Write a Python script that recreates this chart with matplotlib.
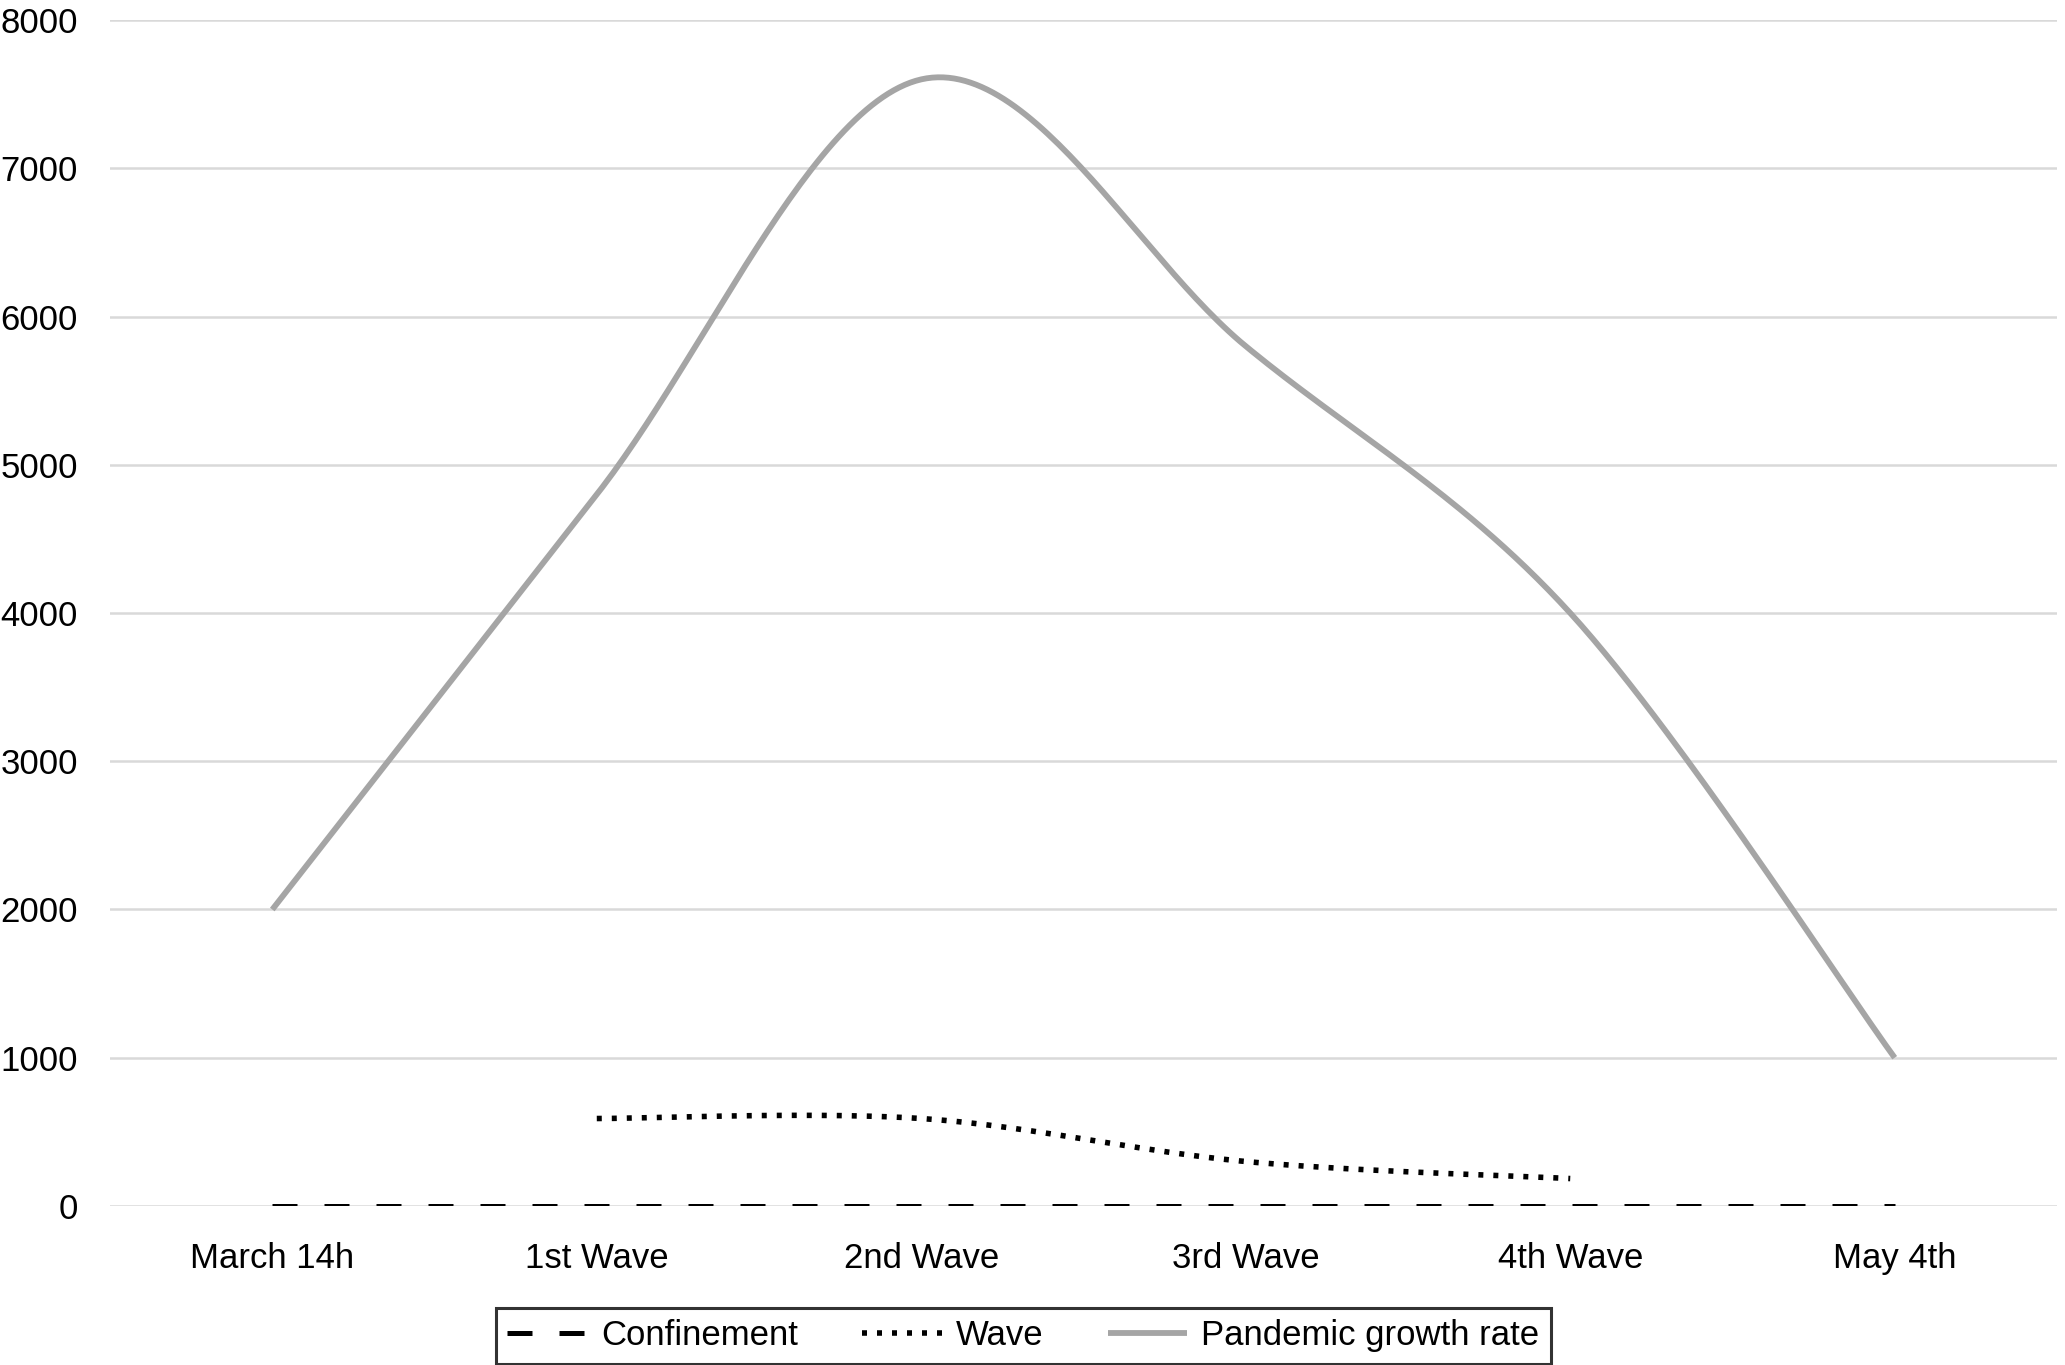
import numpy as np
import matplotlib
matplotlib.use("Agg")
import matplotlib.pyplot as plt

categories = ["March 14h", "1st Wave", "2nd Wave", "3rd Wave", "4th Wave", "May 4th"]
confinement = [0, 0, 0, 0, 0, 0]
wave = [None, 590, 590, 300, 185, None]
pandemic = [2000, 4800, 7600, 5800, 4000, 1000]
yticks = [0, 1000, 2000, 3000, 4000, 5000, 6000, 7000, 8000]

plt.rcParams['font.family'] = ['Liberation Sans', 'DejaVu Sans']


def smooth(xs, ys, n=60):
    """Excel-style smoothed line (Catmull-Rom cubic Bezier)."""
    xs = np.asarray(xs, float)
    ys = np.asarray(ys, float)
    px = np.concatenate([[xs[0]], xs, [xs[-1]]])
    py = np.concatenate([[ys[0]], ys, [ys[-1]]])
    outx, outy = [], []
    t = np.linspace(0, 1, n)
    for i in range(1, len(px) - 2):
        p0 = np.array([px[i], py[i]])
        p3 = np.array([px[i + 1], py[i + 1]])
        c1 = p0 + (np.array([px[i + 1], py[i + 1]]) - np.array([px[i - 1], py[i - 1]])) / 6
        c2 = p3 - (np.array([px[i + 2], py[i + 2]]) - np.array([px[i], py[i]])) / 6
        b = ((1 - t) ** 3)[:, None] * p0 + (3 * (1 - t) ** 2 * t)[:, None] * c1 \
            + (3 * (1 - t) * t ** 2)[:, None] * c2 + (t ** 3)[:, None] * p3
        outx.extend(b[:, 0]); outy.extend(b[:, 1])
    return np.array(outx), np.array(outy)


fig = plt.figure(figsize=(20.65, 13.65), dpi=100)
ax = fig.add_axes([0.0533, 0.1165, 0.9428, 0.8688])

x = np.arange(len(categories))

for yv in yticks:
    ax.axhline(yv, color='#d9d9d9', lw=1.8, zorder=0)

cx, cy = smooth(x, confinement)
ax.plot(cx, cy, color='black', lw=3.6, dashes=(5.0, 5.4), dash_capstyle='butt',
        label='Confinement', zorder=3)

wx = [i for i, v in enumerate(wave) if v is not None]
wy = [v for v in wave if v is not None]
sx, sy = smooth(wx, wy)
ax.plot(sx, sy, color='black', lw=4.0, dashes=(0.9, 1.8), dash_capstyle='butt',
        label='Wave', zorder=3)

px_, py_ = smooth(x, pandemic)
ax.plot(px_, py_, color='#a5a5a5', lw=4.2, solid_capstyle='butt',
        label='Pandemic growth rate', zorder=2)

ax.set_xlim(-0.5, len(categories) - 0.5)
ax.set_ylim(0, 8000)
ax.set_yticks(yticks)
ax.set_yticklabels([str(v) for v in yticks])
ax.set_xticks(x)
ax.set_xticklabels(categories)
ax.tick_params(axis='both', length=0, labelsize=25)
ax.tick_params(axis='y', pad=23)
ax.tick_params(axis='x', pad=26)
for s in ax.spines.values():
    s.set_visible(False)

leg = fig.legend(loc='lower center', bbox_to_anchor=(0.4955, 0.001), ncol=3,
                 fontsize=25, frameon=True, fancybox=False, edgecolor='black',
                 handlelength=2.3, handletextpad=0.4, columnspacing=1.85,
                 borderpad=0.33, borderaxespad=0)
leg.get_frame().set_linewidth(2.2)

fig.savefig("out.png", dpi=100, facecolor='white')
